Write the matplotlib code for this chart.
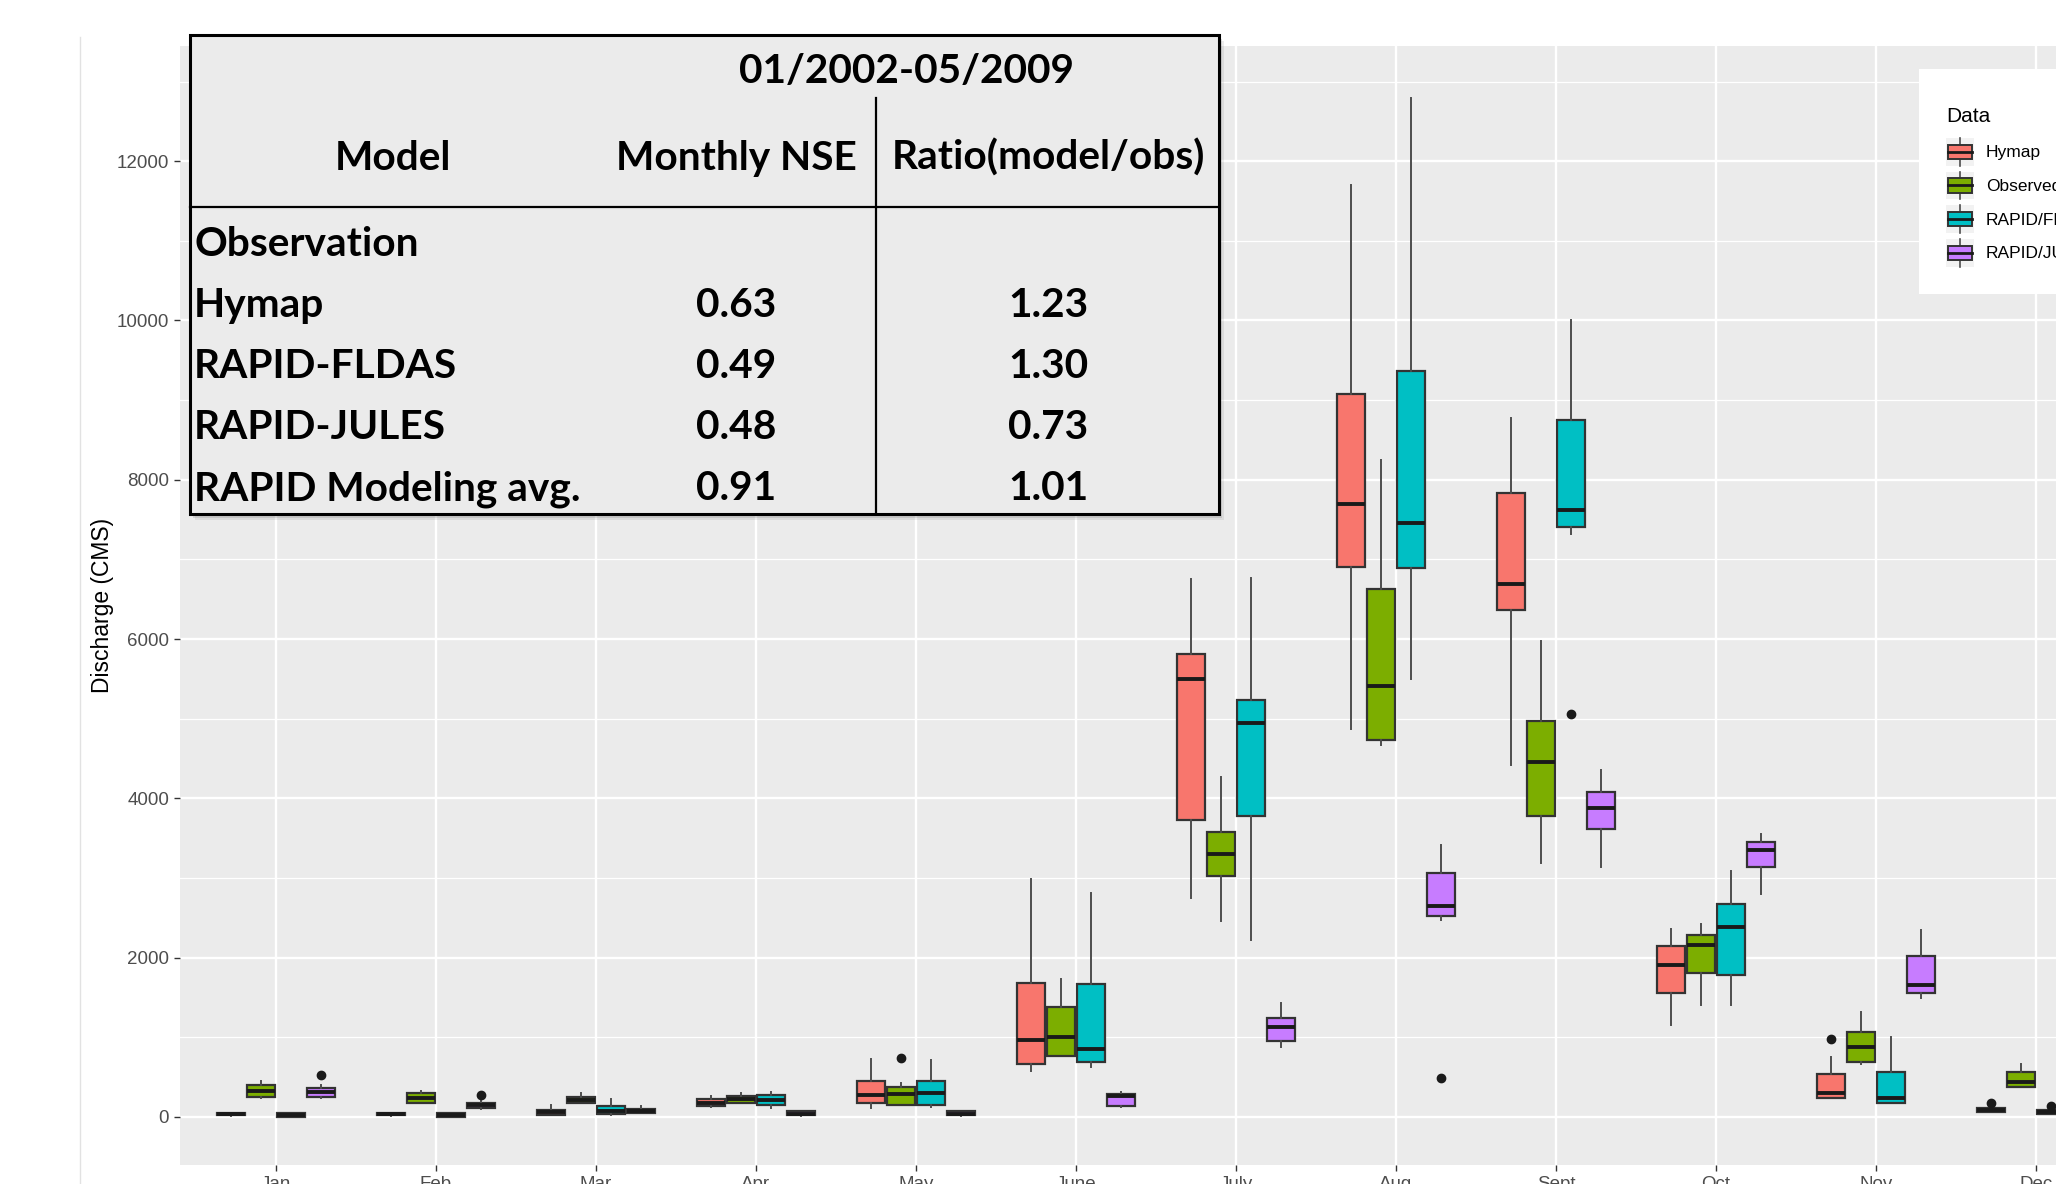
import matplotlib
matplotlib.use('Agg')
import matplotlib.pyplot as plt
from matplotlib.patches import Rectangle, Patch
from matplotlib.lines import Line2D
from matplotlib.legend_handler import HandlerBase
from matplotlib.ticker import FixedLocator

W, H = 2056, 1184

months = ['Jan', 'Feb', 'Mar', 'Apr', 'May', 'June', 'July', 'Aug', 'Sept', 'Oct', 'Nov', 'Dec']
series_names = ['Hymap', 'Observed', 'RAPID/FLDAS', 'RAPID/JULES']
series_colors = ['#F8766D', '#7CAE00', '#00BFC4', '#C77CFF']
legend_title = 'Data'

# ---- box statistics (whisker low, Q1, median, Q3, whisker high, outliers) ----
hymap_whislo = [15, 15, 20, 122, 113, 583, 2749, 4877, 4423, 1149, 244, 60]
hymap_q1 = [20, 22, 25, 134, 176, 659, 3731, 6904, 6368, 1562, 244, 67]
hymap_med = [32, 35, 60, 176, 273, 964, 5502, 7690, 6686, 1907, 295, 93]
hymap_q3 = [45, 48, 92, 226, 457, 1682, 5816, 9071, 7833, 2147, 539, 118]
hymap_whishi = [55, 55, 147, 268, 734, 2982, 6749, 11695, 8778, 2366, 758, 139]
hymap_fliers = [[], [], [], [], [], [], [], [], [], [], [981], [175]]

obs_whislo = [239, 170, 170, 170, 150, 762, 2466, 4669, 3186, 1402, 665, 379]
obs_q1 = [252, 176, 176, 176, 155, 771, 3031, 4734, 3783, 1802, 686, 379]
obs_med = [323, 239, 218, 226, 294, 1000, 3296, 5417, 4462, 2160, 876, 434]
obs_q3 = [407, 302, 252, 260, 377, 1381, 3574, 6623, 4972, 2286, 1065, 560]
obs_whishi = [449, 331, 302, 302, 428, 1735, 4274, 8243, 5975, 2425, 1318, 665]
obs_fliers = [[], [], [], [], [742], [], [], [], [], [], [], []]

fldas_whislo = [0, 0, 21, 113, 130, 628, 2220, 5499, 7322, 1402, 181, 40]
fldas_q1 = [5, 5, 38, 147, 155, 695, 3776, 6891, 7406, 1781, 181, 42]
fldas_med = [22, 22, 80, 218, 302, 852, 4942, 7456, 7615, 2379, 244, 60]
fldas_q3 = [45, 45, 134, 281, 457, 1668, 5238, 9360, 8745, 2674, 560, 84]
fldas_whishi = [50, 50, 231, 310, 721, 2812, 6771, 12795, 10000, 3086, 1002, 100]
fldas_fliers = [[], [], [], [], [], [], [], [], [5063], [], [], [139]]

jules_whislo = [240, 105, 55, 15, 15, 130, 874, 2473, 3134, 2800, 1499, 20]
jules_q1 = [252, 113, 55, 21, 21, 140, 951, 2529, 3610, 3137, 1558, 30]
jules_med = [314, 147, 80, 42, 42, 260, 1135, 2646, 3882, 3347, 1663, 50]
jules_q3 = [365, 172, 101, 71, 71, 283, 1242, 3057, 4077, 3453, 2021, 70]
jules_whishi = [407, 197, 134, 80, 80, 314, 1435, 3415, 4354, 3549, 2349, 90]
jules_fliers = [[532], [273], [], [], [], [], [], [489], [], [], [], []]

series_stats = [
    (hymap_whislo, hymap_q1, hymap_med, hymap_q3, hymap_whishi, hymap_fliers),
    (obs_whislo, obs_q1, obs_med, obs_q3, obs_whishi, obs_fliers),
    (fldas_whislo, fldas_q1, fldas_med, fldas_q3, fldas_whishi, fldas_fliers),
    (jules_whislo, jules_q1, jules_med, jules_q3, jules_whishi, jules_fliers),
]

# ---- table ----
table_title = '01/2002-05/2009'
table_header = ['Model', 'Monthly NSE', 'Ratio(model/obs)']
table_models = ['Observation', 'Hymap', 'RAPID-FLDAS', 'RAPID-JULES', 'RAPID Modeling avg.']
table_nse = ['', '0.63', '0.49', '0.48', '0.91']
table_ratio = ['', '1.23', '1.30', '0.73', '1.01']

yticks = [0, 2000, 4000, 6000, 8000, 10000, 12000]
yminor = [1000, 3000, 5000, 7000, 9000, 11000, 13000]

# ---------------------------------------------------------------------------
fig = plt.figure(figsize=(W / 100, H / 100), dpi=100)
fig.patch.set_facecolor('white')

p_left, p_right, p_top, p_bot = 180, 2132, 46, 1165
ax = fig.add_axes([p_left / W, 1 - p_bot / H, (p_right - p_left) / W, (p_bot - p_top) / H])
ax.set_facecolor('#EBEBEB')
for s in ax.spines.values():
    s.set_visible(False)

ax.set_xlim(0.4, 12.6)
ax.set_ylim(-603, 13446)

ax.set_yticks(yticks)
ax.set_yticklabels([str(v) for v in yticks])
ax.yaxis.set_minor_locator(FixedLocator(yminor))
ax.set_xticks(range(1, 13))
ax.set_xticklabels(months)

ax.grid(which='major', color='white', linewidth=1.7)
ax.grid(which='minor', axis='y', color='white', linewidth=0.9)
ax.set_axisbelow(True)

lab_font = 'Liberation Sans'
ax.tick_params(which='major', length=4.2, width=1.0, color='#333333',
               labelcolor='#4D4D4D', labelsize=13.5, pad=3.6)
ax.tick_params(which='minor', length=0)
for lbl in ax.get_xticklabels() + ax.get_yticklabels():
    lbl.set_fontfamily(lab_font)
ax.set_ylabel('Discharge (CMS)', fontsize=16.5, fontfamily=lab_font, color='black', labelpad=2)

offsets = [-0.28125, -0.09375, 0.09375, 0.28125]
box_w = 0.169
for si, (wl, q1, md, q3, wh, fl) in enumerate(series_stats):
    stats = []
    for i in range(12):
        stats.append(dict(whislo=wl[i], q1=q1[i], med=md[i], q3=q3[i], whishi=wh[i], fliers=fl[i]))
    pos = [m + 1 + offsets[si] for m in range(12)]
    ax.bxp(stats, positions=pos, widths=box_w, patch_artist=True, showcaps=False,
           manage_ticks=False,
           boxprops=dict(facecolor=series_colors[si], edgecolor='#333333', linewidth=1.6),
           medianprops=dict(color='#1a1a1a', linewidth=2.8, solid_capstyle='butt'),
           whiskerprops=dict(color='#4d4d4d', linewidth=1.4),
           flierprops=dict(marker='o', markerfacecolor='#1a1a1a', markeredgecolor='#1a1a1a',
                           markersize=6, linestyle='none'))


# ---- overlay (pixel coordinates) ----
ov = fig.add_axes([0, 0, 1, 1], zorder=5)
ov.set_xlim(0, W)
ov.set_ylim(H, 0)
ov.axis('off')
ov.patch.set_visible(False)

ov.add_line(Line2D([80, 80], [37, H], color='#E2E2E2', lw=1.0))

# legend background box and title
ov.add_patch(Rectangle((1919, 69), 200, 225, facecolor='white', edgecolor='none', zorder=1))
ov.text(1946, 117, legend_title, fontsize=15, fontfamily=lab_font, color='black',
        ha='left', va='center', zorder=3)


# ---- legend ----
class BoxKey(HandlerBase):
    def create_artists(self, legend, orig, xd, yd, width, height, fontsize, trans):
        fc = orig.get_facecolor()
        x0, y0 = -xd, -yd
        cx = x0 + width / 2
        bg = Rectangle((x0, y0), width, height, facecolor='#F2F2F2', edgecolor='none', transform=trans)
        line = Line2D([cx, cx], [y0, y0 + height], color='#4d4d4d', lw=1.2, transform=trans)
        bw, bh = width * 0.88, height * 0.52
        rect = Rectangle((cx - bw / 2, y0 + height / 2 - bh / 2), bw, bh, facecolor=fc,
                         edgecolor='#333333', lw=1.4, transform=trans)
        med = Line2D([cx - bw / 2, cx + bw / 2], [y0 + height / 2] * 2, color='#1a1a1a',
                     lw=2.0, transform=trans)
        return [bg, line, rect, med]


handles = [Patch(facecolor=c) for c in series_colors]
leg = fig.legend(handles, series_names, loc='upper left',
                 bbox_to_anchor=(1946 / W, 1 - 138 / H), bbox_transform=fig.transFigure,
                 borderaxespad=0, borderpad=0, frameon=False,
                 prop={'family': lab_font, 'size': 12.5},
                 handlelength=1.61, handleheight=2.07,
                 labelspacing=0.35, handletextpad=0.7,
                 handler_map={Patch: BoxKey()})
leg.set_zorder(10)

# ---- table ----
tl, tr, tt, tb = 190, 1219, 35, 514
for k, a in enumerate([0.10, 0.16, 0.22]):
    d = 6 - 2 * k
    ov.add_patch(Rectangle((tl + d - 1, tt + d), tr - tl, tb - tt, facecolor='#555555',
                           edgecolor='none', alpha=a, zorder=1))
ov.add_patch(Rectangle((tl, tt), tr - tl, tb - tt, facecolor='#EBEBEB', edgecolor='black',
                       lw=2.2, zorder=2))
ov.add_line(Line2D([tl, tr], [207, 207], color='black', lw=1.6, zorder=3))
ov.add_line(Line2D([876, 876], [98, tb], color='black', lw=1.6, zorder=3))

tfont = dict(fontfamily='Lato', fontweight='bold', color='black', zorder=4)
fig.canvas.draw()
r = fig.canvas.get_renderer()
probe = ov.text(0, 0, 'Monthly NSE', fontsize=30, **tfont)
wpx = probe.get_window_extent(r).width
probe.remove()
fs = 30 * 241 / wpx

ov.text(907, 83, table_title, fontsize=fs, ha='center', va='baseline', **tfont)
hx = [393, 736, 1048]
for x, t in zip(hx, table_header):
    ov.text(x, 170, t, fontsize=fs, ha='center', va='baseline', **tfont)
row_base = [256, 317, 378, 439, 500]
for yb, m, n, q in zip(row_base, table_models, table_nse, table_ratio):
    ov.text(194, yb, m, fontsize=fs, ha='left', va='baseline', **tfont)
    if n:
        ov.text(736, yb, n, fontsize=fs, ha='center', va='baseline', **tfont)
    if q:
        ov.text(1048, yb, q, fontsize=fs, ha='center', va='baseline', **tfont)

fig.savefig('out.png', dpi=100, facecolor='white')
